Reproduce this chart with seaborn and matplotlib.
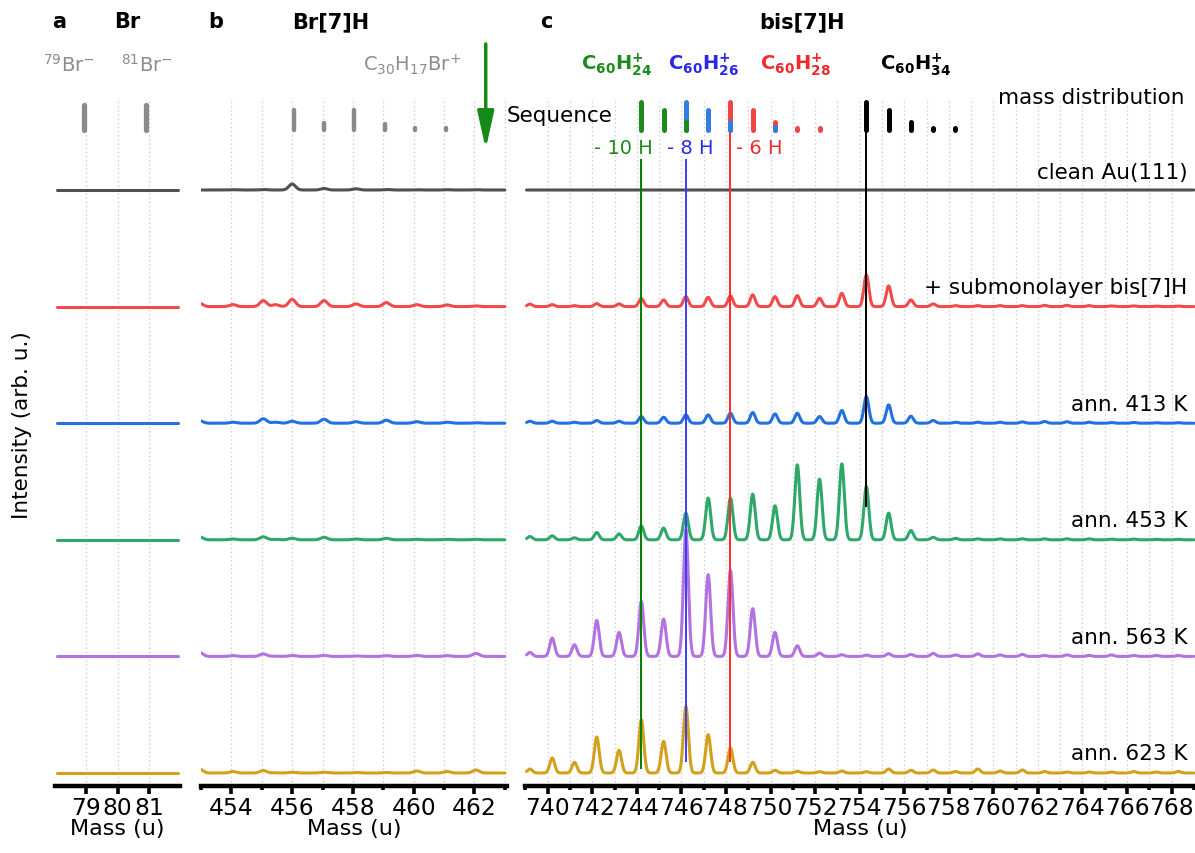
import numpy as np
import pandas as pd
import matplotlib
matplotlib.use('Agg')
import matplotlib.pyplot as plt
import seaborn as sns

# traces, top to bottom
samples = ['clean Au(111)', '+ submonolayer bis[7]H', 'ann. 413 K',
           'ann. 453 K', 'ann. 563 K', 'ann. 623 K']
colors = ['#505050', '#f24a4a', '#2271e0', '#2ea868', '#b273e0', '#d3a01c']

# panel b peaks (Br[7]H region)
b_mass = [452.95, 454.05, 455.05, 455.45, 456.0, 457.05, 458.1, 459.1, 460.1, 461.1, 462.05]
gray_b = [0.0, 0.3, 0.5, 0.0, 6.0, 1.5, 1.2, 0.5, 0.3, 0.3, 0.3]
red_b = [3.3, 2.0, 6.0, 2.0, 7.3, 6.0, 2.7, 4.0, 2.0, 1.7, 0.7]
blue_b = [2.5, 1.0, 4.5, 1.0, 2.0, 4.0, 1.5, 3.0, 1.5, 1.0, 0.5]
green_b = [3.0, 0.8, 3.0, 0.5, 1.5, 2.5, 0.8, 1.5, 0.5, 0.5, 0.5]
purple_b = [4.0, 0.8, 2.5, 0.3, 1.0, 1.0, 0.5, 0.8, 1.0, 0.8, 3.0]
gold_b = [4.0, 1.5, 2.5, 0.3, 0.8, 0.8, 0.5, 0.5, 2.0, 1.5, 3.0]

# panel c peaks (bis[7]H region)
c_mass = [739.2, 740.2, 741.2, 742.2, 743.2, 744.2, 745.2, 746.2, 747.2, 748.2,
          749.2, 750.2, 751.2, 752.2, 753.2, 754.3, 755.3, 756.3, 757.3, 758.3,
          759.3, 760.3, 761.3, 762.3, 763.3, 764.3, 765.3, 766.3, 767.3, 768.3]
gray_c = [0.0] * 30
red_c = [2.5, 2, 1, 3, 2.7, 8, 6.7, 10, 9.3, 10.7, 11.7, 10, 11, 8.3, 13.3,
         31.7, 20.7, 6.7, 2.7, 1, 1, 1, 1, 1.3, 1.3, 1, 0.7, 0.7, 0.5, 0.5]
blue_c = [2, 2, 1, 2.7, 2, 6.7, 6, 8.3, 8.3, 10, 10.7, 9.3, 10, 6.7, 12.7,
          26.7, 18.3, 7, 2.7, 1, 1, 1, 1.3, 1.7, 1.5, 1, 0.7, 0.7, 0.5, 0.5]
green_c = [3.3, 4, 2, 7.3, 6, 14, 11.7, 26.7, 41.7, 41.7, 45.7, 34, 75, 60.7, 76,
           53.3, 26.7, 9.3, 2.5, 1.5, 1, 1, 1, 1, 1, 1, 0.7, 0.7, 0.5, 0.5]
purple_c = [4, 18.3, 11.7, 36, 24, 55, 37.3, 127, 81.7, 86, 47.7, 24, 10.7, 3.3, 1.7,
            1.3, 2.7, 2, 3, 1.5, 2.5, 1.5, 2, 1, 1.5, 1, 1.5, 1, 1, 1]
gold_c = [4, 15, 10.7, 36, 22.7, 53.3, 31.7, 66.7, 38.3, 25, 10.7, 2.7, 1.7, 1.3, 2,
          1.3, 4, 2.7, 3, 1.5, 4, 2, 3, 1.5, 1, 1, 1, 1.5, 1, 1.5]

# isotope pattern bars ("mass distribution")
seq_a_mass = [78.92, 80.92]
seq_a_h = [25, 25]
seq_b_mass = [456.05, 457.05, 458.05, 459.05, 460.05, 461.05]
seq_b_h = [20, 7, 20.5, 6.5, 2.5, 2.5]
seq_red_mass = [748.2, 749.2, 750.2, 751.2, 752.2]
seq_red_h = [28, 20, 8, 2.5, 2]
seq_blue_mass = [746.2, 747.2, 748.2, 750.2]
seq_blue_h = [28, 20, 8, 3]
seq_green_mass = [744.2, 745.2, 746.2]
seq_green_h = [28, 20, 8]
seq_black_mass = [754.3, 755.3, 756.3, 757.3, 758.3]
seq_black_h = [28, 20, 8, 2.5, 2]

spacing = 116.6
sigma = 0.11
bar_base = 643

sns.set_theme(style='white')
plt.rcParams['font.family'] = ['DejaVu Sans']
plt.rcParams['font.size'] = 15.5
plt.rcParams['text.color'] = 'black'
plt.rcParams['axes.labelcolor'] = 'black'
plt.rcParams['xtick.color'] = 'black'


def spectrum(x, masses, heights):
    y = np.zeros_like(x)
    for m, h in zip(masses, heights):
        y += h * np.exp(-0.5 * ((x - m) / sigma) ** 2)
    return y


def trace_frame(x, peak_sets, masses):
    rows = []
    for i, (name, hts) in enumerate(zip(samples, peak_sets)):
        off = (len(samples) - 1 - i) * spacing
        y = off + spectrum(x, masses, hts)
        rows.append(pd.DataFrame({'mass': x, 'intensity': y, 'sample': name}))
    return pd.concat(rows, ignore_index=True)


fig = plt.figure(figsize=(11.95, 8.54), dpi=100)
W, H = 1195, 854
bottom = (H - 787) / H
height = 787 / H
ax_a = fig.add_axes([55 / W, bottom, 125 / W, height])
ax_b = fig.add_axes([201 / W, bottom, 306 / W, height])
ax_c = fig.add_axes([525 / W, bottom, 670 / W, height])
pal = dict(zip(samples, colors))

# panel a: flat traces
xa = np.linspace(78.05, 81.93, 200)
df_a = trace_frame(xa, [[0, 0]] * 6, [79, 81])
sns.lineplot(data=df_a, x='mass', y='intensity', hue='sample', palette=pal,
             estimator=None, legend=False, lw=2.2, ax=ax_a)

xb = np.linspace(453.0, 463.0, 2000)
df_b = trace_frame(xb, [gray_b, red_b, blue_b, green_b, purple_b, gold_b], b_mass)
sns.lineplot(data=df_b, x='mass', y='intensity', hue='sample', palette=pal,
             estimator=None, legend=False, lw=2.2, ax=ax_b)

xc = np.linspace(739.05, 769.0, 6000)
df_c = trace_frame(xc, [gray_c, red_c, blue_c, green_c, purple_c, gold_c], c_mass)
sns.lineplot(data=df_c, x='mass', y='intensity', hue='sample', palette=pal,
             estimator=None, legend=False, lw=2.2, ax=ax_c)

# axes styling
for ax, lim, grid in [(ax_a, (78.0, 82.0), np.arange(79, 82)),
                      (ax_b, (453.0, 463.07), np.arange(454, 464)),
                      (ax_c, (738.98, 769.05), np.arange(740, 769))]:
    ax.set_xlim(*lim)
    ax.set_ylim(-13, 774)
    ax.vlines(grid, -13, 674, colors='#cccccc', linestyles=(0, (1, 2)), lw=1, zorder=0)
    ax.set_yticks([])
    ax.set_ylabel('')
    for s in ['left', 'right', 'top']:
        ax.spines[s].set_visible(False)
    ax.spines['bottom'].set_linewidth(3.2)
    ax.spines['bottom'].set_color('black')
    ax.tick_params(axis='x', which='major', direction='out', length=6, width=2.6,
                   color='black', labelsize=16.8, pad=1.5, bottom=True)
    ax.tick_params(axis='x', which='minor', direction='out', length=3, width=2.6,
                   color='black', bottom=True)
    ax.set_xlabel('Mass (u)', fontsize=16, labelpad=-1)
    ax.patch.set_alpha(0)

ax_a.set_xticks([79, 80, 81])
ax_b.set_xticks(np.arange(454, 463, 2))
ax_b.set_xticks(np.arange(453, 464, 2), minor=True)
ax_c.set_xticks(np.arange(740, 769, 2))
ax_c.set_xticks(np.arange(739, 770, 2), minor=True)

# isotope bars
ax_a.vlines(seq_a_mass, bar_base, [bar_base + h for h in seq_a_h], colors='#8a8a8a',
            lw=3.8, capstyle='round')
ax_b.vlines(seq_b_mass, bar_base, [bar_base + h for h in seq_b_h], colors='#8a8a8a',
            lw=3.2, capstyle='round')
for mm, hh, col in [(seq_red_mass, seq_red_h, '#f04545'),
                    (seq_blue_mass, seq_blue_h, '#2f7fe0'),
                    (seq_green_mass, seq_green_h, '#1d8a1d'),
                    (seq_black_mass, seq_black_h, 'black')]:
    ax_c.vlines(mm, bar_base, [bar_base + h for h in hh], colors=col, lw=3.6,
                capstyle='round', zorder=4)

# guide lines
ax_c.vlines(744.2, 4, 614, colors='#008000', lw=1.4, zorder=3)
ax_c.vlines(746.2, 11, 614, colors='#3a3aff', lw=1.4, zorder=3)
ax_c.vlines(748.2, 11, 671, colors='#ff2a2a', lw=1.4, zorder=3)
ax_c.vlines(754.3, 266, 671, colors='black', lw=1.4, zorder=3)

# panel titles
ax_a.text(78.14, 752, 'a', fontsize=15, fontweight='bold', ha='center', va='center')
ax_a.text(80.3, 752, 'Br', fontsize=15, fontweight='bold', ha='center', va='center')
ax_b.text(453.5, 752, 'b', fontsize=15, fontweight='bold', ha='center', va='center')
ax_b.text(457.26, 752, 'Br[7]H', fontsize=15, fontweight='bold', ha='center', va='center')
ax_c.text(739.95, 752, 'c', fontsize=15, fontweight='bold', ha='center', va='center')
ax_c.text(751.4, 752, 'bis[7]H', fontsize=15, fontweight='bold', ha='center', va='center')

# species labels
grey_txt = '#8c8c8c'
ax_a.text(78.43, 709, r'$\mathregular{^{79}}$Br$\mathregular{^{-}}$', color=grey_txt,
          fontsize=14, ha='center', va='center')
ax_a.text(80.94, 709, r'$\mathregular{^{81}}$Br$\mathregular{^{-}}$', color=grey_txt,
          fontsize=14, ha='center', va='center')
ax_b.text(459.96, 709, r'C$\mathregular{_{30}}$H$\mathregular{_{17}}$Br$\mathregular{^{+}}$',
          color=grey_txt, fontsize=14, ha='center', va='center')
for xm, lab, col in [(743.1, '24', '#1d8a1d'), (747.0, '26', '#2a2ae6'),
                     (751.1, '28', '#f02a2a'), (756.5, '34', 'black')]:
    ax_c.text(xm, 709, r'C$\mathregular{_{60}}$H$\mathregular{_{%s}^{+}}$' % lab, color=col,
              fontsize=14, fontweight='bold', ha='center', va='center')

ax_c.text(742.9, 658, 'Sequence', ha='right', va='center')
ax_c.text(768.6, 676, 'mass distribution', ha='right', va='center')
ax_c.text(744.7, 626, '- 10 H', color='#1d8a1d', ha='right', va='center', fontsize=14)
ax_c.text(746.4, 626, '- 8 H', color='#2a2ae6', ha='center', va='center', fontsize=14)
ax_c.text(748.46, 626, '- 6 H', color='#f02a2a', ha='left', va='center', fontsize=14)

label_y = [601, 486, 369, 253, 136, 20]
for name, ly in zip(samples, label_y):
    ax_c.text(768.7, ly, name, ha='right', va='center')

# arrow in panel b
ax_b.annotate('', xy=(462.37, 624), xytext=(462.37, 729),
              arrowprops=dict(arrowstyle='-|>,head_length=0.9,head_width=0.2',
                              color='#168a16', lw=2.5, mutation_scale=25,
                              shrinkA=0, shrinkB=0))

fig.text(22 / W, 0.502, 'Intensity (arb. u.)', rotation=90, ha='center', va='center',
         fontsize=15.5)

fig.savefig('out.png', dpi=100)
